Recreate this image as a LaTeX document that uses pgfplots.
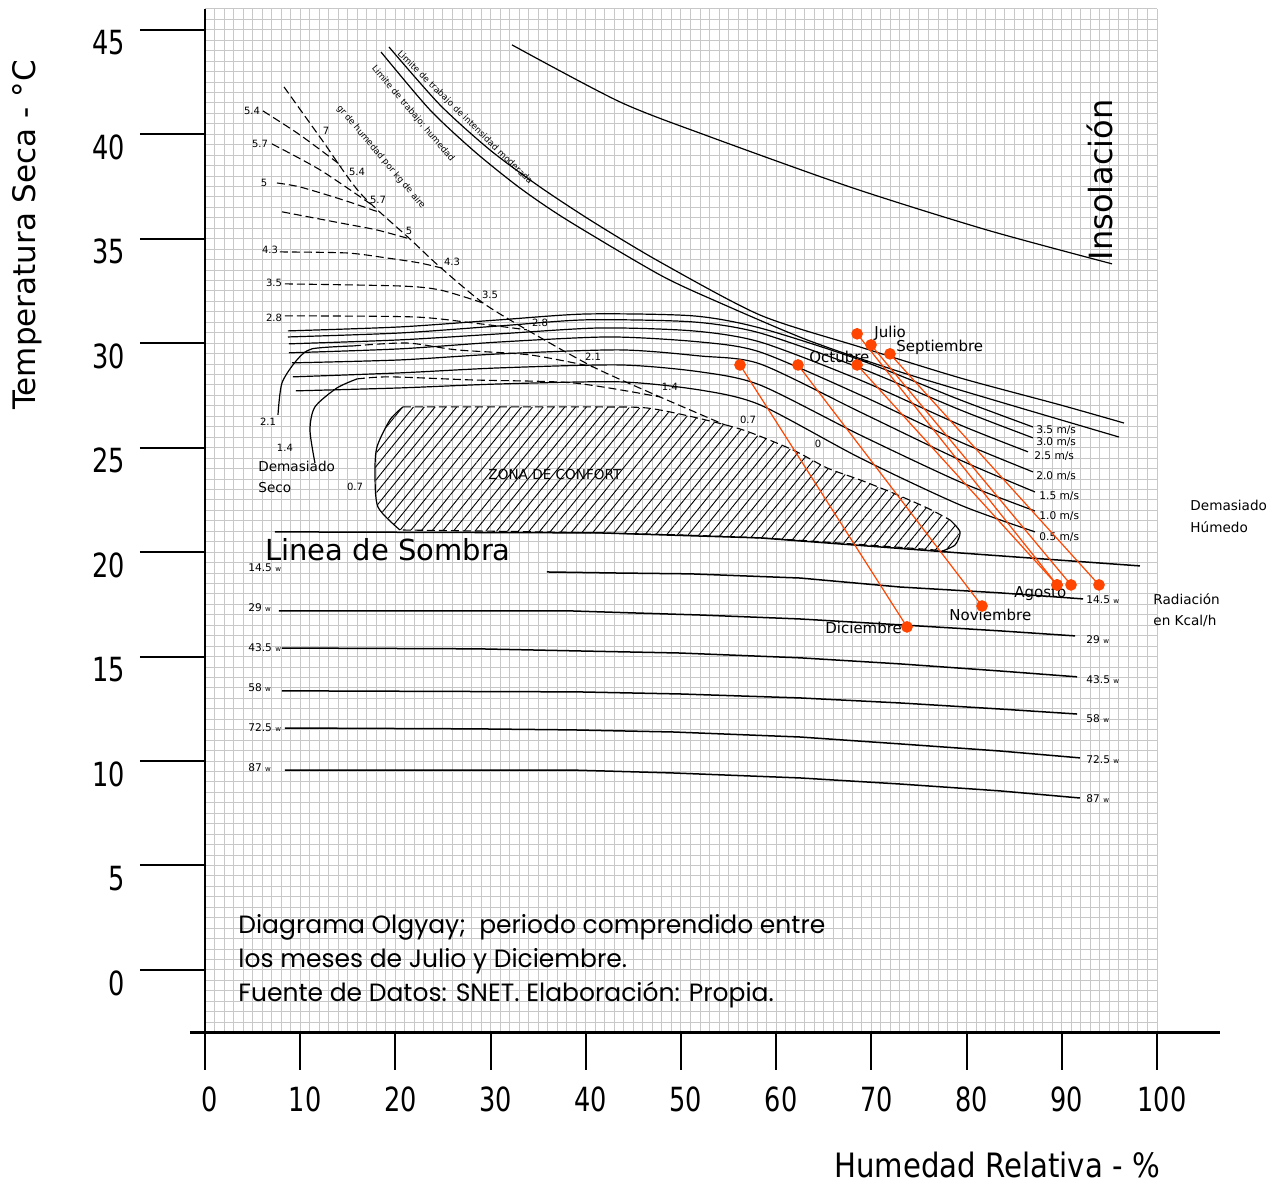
\documentclass[border=0pt]{standalone}
\usepackage{pgfplots}
\pgfplotsset{compat=1.18}
\usepackage{graphicx}
\usepackage{fontspec}
\setmainfont{DejaVu Sans}
\newfontfamily\notefont{Poppins}
\usetikzlibrary{patterns.meta}
\definecolor{orred}{RGB}{255,69,0}
\definecolor{gridgray}{RGB}{200,200,200}
\pgfplotsset{
  crv/.style={black, line width=0.6pt, smooth, tension=0.45, mark=none},
  dsh/.style={black, line width=0.55pt, dash pattern=on 4pt off 2pt, smooth, tension=0.45, mark=none},
  rad/.style={black, line width=0.75pt, mark=none},
  month/.style={orred, line width=0.6pt, mark=*, mark size=2.6pt, mark options={solid, fill=orred, draw=orred}},
}
\tikzset{
  lab/.style={font=\fontsize{5}{6}\selectfont, inner sep=0.5pt},
  wlab/.style={font=\fontsize{5.3}{6}\selectfont, inner sep=0.5pt, anchor=west},
  mlab/.style={font=\fontsize{7.5}{9}\selectfont, inner sep=0.5pt, anchor=west},
  ltxt/.style={font=\fontsize{4.4}{5}\selectfont, inner sep=0pt},
}
\begin{document}
\begin{tikzpicture}
\begin{axis}[
  scale only axis, width=476pt, height=511.8pt,
  xmin=0, xmax=100, ymin=-3, ymax=46,
  xtick={0,1,...,100}, ytick={-3,-2.5,...,46},
  xticklabel={\relax}, yticklabel={\relax},
  xticklabel style={opacity=0}, yticklabel style={opacity=0},
  tick style={draw=none},
  grid=major, major grid style={gridgray, line width=0.5pt},
  axis line style={draw=none},
  clip=false,
]
% bounding box of the whole picture
\path (axis cs:-21.53,-10.24) rectangle (axis cs:113.13,46.43);

% axes
\draw[line width=1.2pt] (axis cs:-1.58,-3) -- (axis cs:106.6,-3);
\draw[line width=1.2pt] (axis cs:0,46) -- (axis cs:0,-3);
\pgfplotsinvokeforeach{0,10,...,100}{
  \draw[line width=1pt] (axis cs:#1,-3) -- (axis cs:#1,-4.8);
  \node[font=\fontsize{12.8}{15}\selectfont, xshift=2.5pt] at (axis cs:#1,-6.22) {\scalebox{1}[1.3]{#1}};
}
\pgfplotsinvokeforeach{0,5,...,45}{
  \draw[line width=1pt] (axis cs:-6.83,#1) -- (axis cs:0,#1);
  \node[font=\fontsize{12.8}{15}\selectfont, anchor=east, yshift=-6.5pt] at (axis cs:-7.67,#1) {\scalebox{1}[1.3]{#1}};
}
\node[rotate=90, font=\fontsize{15.5}{18}\selectfont] at (axis cs:-18.7,35.18) {Temperatura Seca - °C};
\node[font=\fontsize{14.6}{17}\selectfont] at (axis cs:83.2,-9.33) {\scalebox{1}[1.15]{Humedad Relativa - \%}};

% comfort zone
\addplot[draw=none, pattern={Lines[angle=51,distance=4.2pt,line width=0.45pt]}] coordinates {
 (20.8,26.95) (30.99,26.95) (41.49,26.95) (46.43,26.9) (51.26,26.47) (56.51,25.85) (61.76,24.89)
 (65.34,24.03) (68.8,23.46) (72.27,22.83) (75.84,22.12) (78.26,21.54) (79.31,20.97) (78.78,20.34)
 (77.21,20.01) (76.47,20.11) (58.3,20.68) (41.49,20.92) (20.48,21.06) (18.17,22.16) (17.86,23.79)
 (18.07,25.04) (19.43,26.33)} -- cycle;
\addplot[crv] coordinates {(20.48,21.06) (18.17,22.16) (17.86,23.79) (18.07,25.04) (19.43,26.33) (20.8,26.95)};
\addplot[dsh] coordinates {(20.8,26.95) (30.99,26.95) (41.49,26.95) (46.43,26.9) (51.26,26.47) (56.51,25.85) (61.76,24.89) (65.34,24.03) (68.8,23.46) (72.27,22.83) (75.84,22.12) (78.26,21.54)};
\addplot[crv] coordinates {(78.26,21.54) (79.31,20.97) (78.78,20.34) (77.21,20.01)};
\addplot[dsh, smooth=false] coordinates {(77.21,20.01) (76.47,20.11) (58.3,20.68) (41.49,20.92) (20.48,21.06)};
\node[font=\fontsize{6.8}{8}\selectfont] at (axis cs:36.76,23.7) {ZONA DE CONFORT};

% insolation and limit lines
\addplot[crv] coordinates {(32.25,44.28) (43.59,41.55) (53.05,39.88) (68.07,37.43) (82.14,35.42) (95.27,33.8)};
\addplot[crv] coordinates {(19.33,44.18) (24.68,41.41) (29.94,39.25) (35.19,37.48) (40.76,35.81) (47.79,33.89) (58.3,31.35) (68.8,29.82) (79.31,28.34) (89.81,27.05) (96.53,26.18)};
\addplot[crv] coordinates {(18.49,43.94) (23.63,41.17) (28.36,39.16) (33.09,37.43) (38.03,35.9) (47.79,33.27) (54.1,31.93) (63.24,30.16) (73.0,28.63) (83.51,27.19) (96.01,25.51)};
\node[ltxt, rotate=-44.6] at (axis cs:27.3,40.79) {Limite de trabajo de intensidad moderada};
\node[ltxt, rotate=-49.7] at (axis cs:21.85,40.98) {Limite de trabajo; humedad};
\node[ltxt, rotate=-49.9] at (axis cs:18.49,38.92) {gr de humedad por kg de aire};
\node[rotate=90, font=\fontsize{16}{19}\selectfont] at (axis cs:94.0,37.82) {Insolación};

% wind lines
\addplot[crv] coordinates {(8.72,30.59) (20.48,30.78) (30.99,31.12) (40.13,31.4) (51.26,31.31) (58.3,30.73) (68.8,29.2) (79.31,27.29) (86.97,25.99)};
\addplot[crv] coordinates {(8.72,30.3) (20.48,30.49) (30.99,30.83) (40.13,31.12) (51.26,31.02) (58.3,30.49) (68.8,28.82) (79.31,26.81) (86.97,25.47)};
\addplot[crv] coordinates {(8.82,29.97) (20.48,30.16) (30.99,30.45) (41.49,30.73) (51.26,30.59) (58.3,30.06) (68.8,28.24) (79.31,26.09) (86.45,24.8)};
\addplot[crv] coordinates {(8.82,29.54) (20.48,29.73) (30.99,30.06) (42.54,30.3) (52.0,30.06) (58.3,29.58) (68.8,27.53) (79.31,25.28) (86.97,23.84)};
\addplot[crv] coordinates {(9.14,29.06) (20.48,29.2) (30.99,29.49) (43.59,29.68) (52.0,29.39) (58.3,29.01) (68.8,26.71) (79.31,24.41) (87.18,22.88)};
\addplot[crv] coordinates {(9.24,28.39) (20.48,28.58) (30.99,28.82) (43.59,28.96) (52.0,28.63) (58.3,28.0) (68.8,25.61) (79.31,23.36) (87.18,21.97)};
\addplot[crv] coordinates {(9.56,27.72) (20.48,27.86) (30.99,28.05) (43.59,28.15) (52.0,27.76) (58.3,27.05) (68.8,24.51) (79.31,22.26) (87.18,20.97)};
\node[wlab] at (axis cs:87.18,25.85) {3.5 m/s};
\node[wlab] at (axis cs:87.18,25.28) {3.0 m/s};
\node[wlab] at (axis cs:86.97,24.61) {2.5 m/s};
\node[wlab] at (axis cs:87.18,23.65) {2.0 m/s};
\node[wlab] at (axis cs:87.5,22.69) {1.5 m/s};
\node[wlab] at (axis cs:87.5,21.73) {1.0 m/s};
\node[wlab] at (axis cs:87.5,20.73) {0.5 m/s};

% evaporation (water) lines
\addplot[dsh] coordinates {(8.3,42.27) (12.29,39.73) (16.28,37.2) (21.53,34.99) (24.68,33.65) (29.2,31.93) (33.82,30.64) (40.76,28.87) (47.79,27.43) (54.62,26.09)};
\addplot[dsh] coordinates {(6.09,41.12) (9.98,39.97) (14.39,38.48)};
\addplot[dsh] coordinates {(7.04,39.54) (12.08,38.3) (17.54,36.62)};
\addplot[dsh] coordinates {(7.56,37.67) (9.98,37.48) (14.5,36.86) (18.17,36.29)};
\addplot[dsh] coordinates {(8.09,36.29) (14.18,35.76) (18.07,35.42) (21.53,34.99)};
\addplot[dsh] coordinates {(7.88,34.37) (14.92,34.32) (19.12,34.08) (22.58,33.84) (25.21,33.56)};
\addplot[dsh] coordinates {(8.4,32.84) (20.48,32.74) (24.68,32.55) (29.2,31.93)};
\addplot[dsh] coordinates {(8.4,31.31) (21.85,31.26) (28.15,30.97) (33.82,30.64)};
\addplot[crv] coordinates {(7.67,26.57) (8.09,28.1) (9.66,29.2) (11.24,29.73) (15.55,29.87)};
\addplot[dsh] coordinates {(15.55,29.87) (21.22,30.01) (26.47,29.68) (34.14,29.44) (40.76,28.87)};
\addplot[crv] coordinates {(11.55,24.27) (11.03,25.85) (11.55,26.95) (13.87,27.86) (15.97,28.29)};
\addplot[dsh] coordinates {(15.97,28.29) (19.43,28.39) (28.15,28.24) (38.66,28.1) (47.79,27.43)};
\node[lab] at (axis cs:4.94,41.12) {5.4};
\node[lab] at (axis cs:5.78,39.54) {5.7};
\node[lab] at (axis cs:6.2,37.67) {5};
\node[lab] at (axis cs:6.83,34.47) {4.3};
\node[lab] at (axis cs:7.25,32.89) {3.5};
\node[lab] at (axis cs:7.25,31.21) {2.8};
\node[lab] at (axis cs:6.62,26.23) {2.1};
\node[lab] at (axis cs:8.4,24.99) {1.4};
\node[lab] at (axis cs:15.76,23.12) {0.7};
\node[lab] at (axis cs:12.71,40.16) {7};
\node[lab] at (axis cs:15.97,38.2) {5.4};
\node[lab] at (axis cs:18.17,36.86) {5.7};
\node[lab] at (axis cs:21.43,35.38) {5};
\node[lab] at (axis cs:25.95,33.89) {4.3};
\node[lab] at (axis cs:29.94,32.31) {3.5};
\node[lab] at (axis cs:35.19,30.97) {2.8};
\node[lab] at (axis cs:40.76,29.34) {2.1};
\node[lab] at (axis cs:48.84,27.91) {1.4};
\node[lab] at (axis cs:57.04,26.33) {0.7};
\node[lab] at (axis cs:64.39,25.18) {0};

% shade line and radiation lines
\addplot[rad] coordinates {(7.35,20.97) (41.49,20.92) (58.3,20.68) (79.31,19.96) (98.21,19.34)};
\addplot[rad] coordinates {(35.92,19.05) (43.28,19.0) (50.95,18.96) (62.5,18.76) (73.0,18.33) (83.51,18.05) (92.23,17.76)};
\addplot[rad] coordinates {(7.77,17.19) (38.13,17.19) (44.96,17.09) (52.0,16.99) (62.5,16.8) (73.0,16.52) (83.51,16.23) (91.39,15.99)};
\addplot[rad] coordinates {(8.09,15.41) (28.68,15.37) (39.18,15.27) (49.9,15.17) (62.5,14.94) (73.0,14.65) (83.51,14.31) (91.6,14.03)};
\addplot[rad] coordinates {(8.09,13.36) (39.08,13.31) (49.9,13.21) (62.5,13.02) (73.0,12.78) (83.51,12.49) (91.6,12.25)};
\addplot[rad] coordinates {(8.4,11.58) (28.36,11.54) (38.55,11.49) (49.16,11.39) (62.5,11.15) (73.0,10.82) (83.51,10.48) (91.91,10.15)};
\addplot[rad] coordinates {(8.4,9.57) (38.34,9.57) (49.05,9.43) (62.5,9.19) (73.0,8.9) (83.51,8.57) (91.91,8.23)};
\node[wlab] at (axis cs:4.41,19.24) {14.5 {\fontsize{3.5}{4}\selectfont w}};
\node[wlab] at (axis cs:4.41,17.33) {29 {\fontsize{3.5}{4}\selectfont w}};
\node[wlab] at (axis cs:4.41,15.41) {43.5 {\fontsize{3.5}{4}\selectfont w}};
\node[wlab] at (axis cs:4.41,13.5) {58 {\fontsize{3.5}{4}\selectfont w}};
\node[wlab] at (axis cs:4.41,11.58) {72.5 {\fontsize{3.5}{4}\selectfont w}};
\node[wlab] at (axis cs:4.41,9.67) {87 {\fontsize{3.5}{4}\selectfont w}};
\node[wlab] at (axis cs:92.44,17.71) {14.5 {\fontsize{3.5}{4}\selectfont w}};
\node[wlab] at (axis cs:92.44,15.8) {29 {\fontsize{3.5}{4}\selectfont w}};
\node[wlab] at (axis cs:92.44,13.88) {43.5 {\fontsize{3.5}{4}\selectfont w}};
\node[wlab] at (axis cs:92.44,12.02) {58 {\fontsize{3.5}{4}\selectfont w}};
\node[wlab] at (axis cs:92.44,10.05) {72.5 {\fontsize{3.5}{4}\selectfont w}};
\node[wlab] at (axis cs:92.44,8.19) {87 {\fontsize{3.5}{4}\selectfont w}};

% other texts
\node[anchor=west, align=left, font=\fontsize{6.8}{10.5}\selectfont, inner sep=0pt] at (axis cs:5.57,23.62) {Demasiado\\Seco};
\node[anchor=west, align=left, font=\fontsize{6.8}{11}\selectfont, inner sep=0pt] at (axis cs:103.47,21.73) {Demasiado\\Húmedo};
\node[anchor=west, align=left, font=\fontsize{6.8}{10.5}\selectfont, inner sep=0pt] at (axis cs:99.58,17.23) {Radiación\\en Kcal/h};
\node[anchor=west, font=\fontsize{14.5}{17}\selectfont, inner sep=0pt] at (axis cs:6.3,20.1) {Linea de Sombra};
\node[anchor=west, align=left, font=\notefont\fontsize{12.5}{17}\selectfont, inner sep=0pt] at (axis cs:3.47,0.43) {Diagrama Olgyay;\ \ periodo comprendido entre\\los meses de Julio y Diciembre.\\Fuente de Datos: SNET. Elaboración: Propia.};

% months
\addplot[month] coordinates {(68.5,30.45) (89.5,18.43)};
\addplot[month] coordinates {(69.96,29.92) (90.97,18.43)};
\addplot[month] coordinates {(71.95,29.49) (93.91,18.43)};
\addplot[month] coordinates {(68.5,28.96) (89.5,18.43)};
\addplot[month] coordinates {(62.29,28.96) (81.62,17.42)};
\addplot[month] coordinates {(56.2,28.96) (73.74,16.42)};
\node[mlab] at (axis cs:70.17,30.49) {Julio};
\node[mlab] at (axis cs:72.48,29.78) {Septiembre};
\node[mlab] at (axis cs:63.34,29.34) {Octubre};
\node[mlab] at (axis cs:84.87,18.0) {Agosto};
\node[mlab] at (axis cs:78.05,16.99) {Noviembre};
\node[mlab] at (axis cs:65.02,16.37) {Diciembre};
\end{axis}
\end{tikzpicture}
\end{document}
